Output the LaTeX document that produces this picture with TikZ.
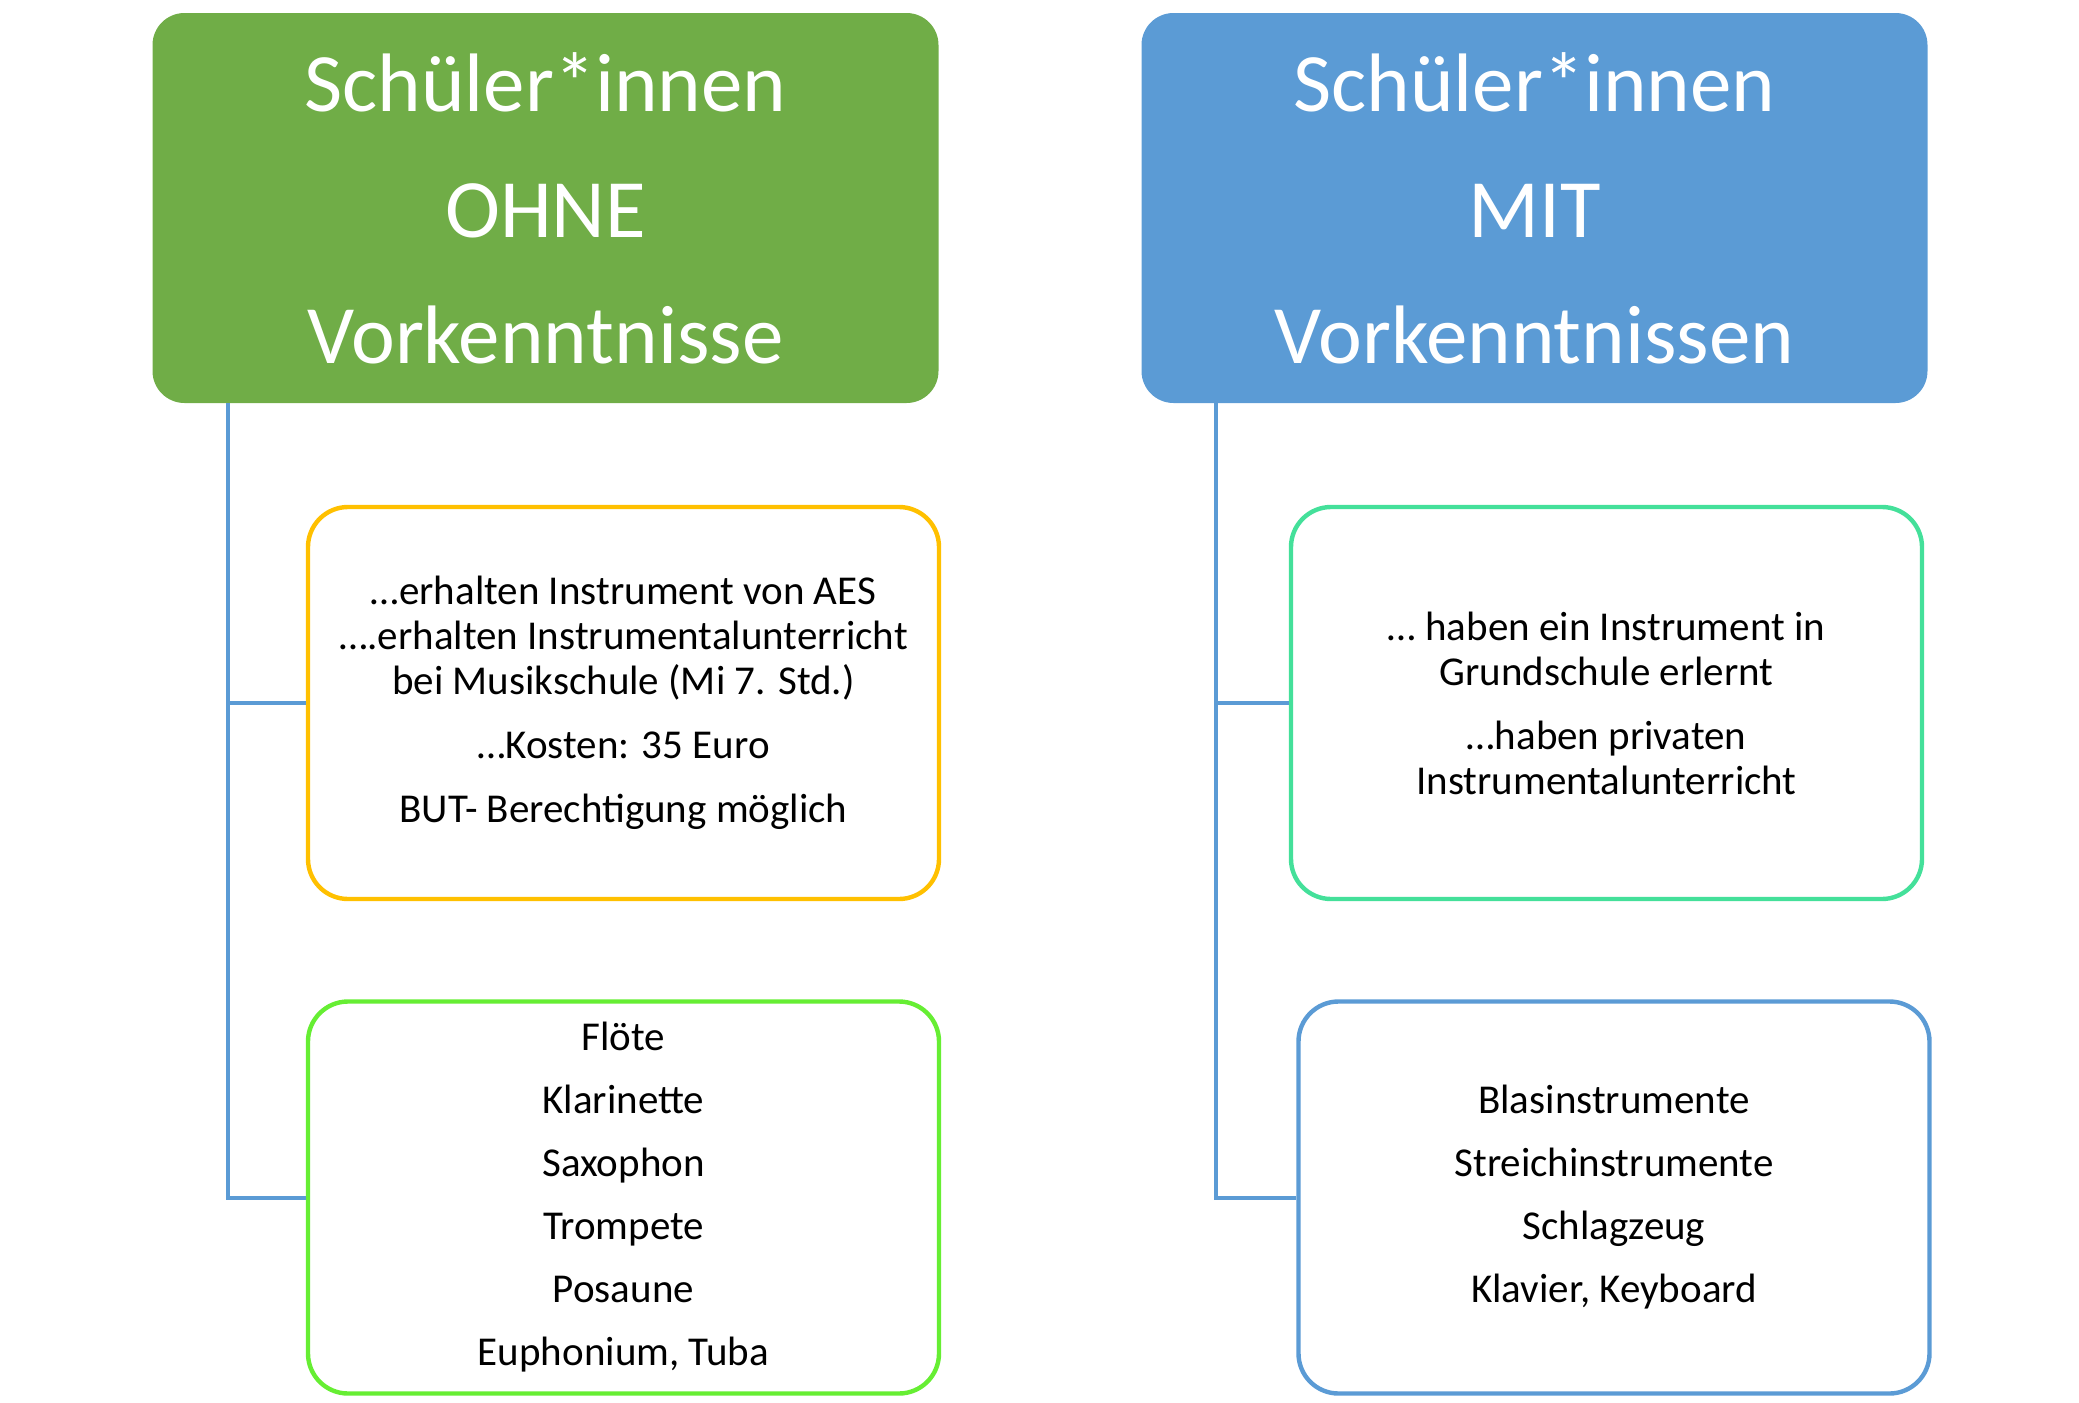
\documentclass[tikz,border=0pt]{standalone}
\usepackage{fontspec}
\setmainfont{Carlito}
\usetikzlibrary{positioning}
\definecolor{hdrgreen}{HTML}{70AD47}
\definecolor{hdrblue}{HTML}{5B9BD5}
\definecolor{boxorange}{HTML}{FFC000}
\definecolor{boxlime}{HTML}{66EE33}
\definecolor{boxteal}{HTML}{44E09A}

\begin{document}
\begin{tikzpicture}[x=0.5pt, y=-0.5pt,
  header/.style={rectangle, rounded corners=16pt, align=center, text=white,
    minimum width=393pt, minimum height=195pt, inner sep=0pt,
    font=\fontsize{41.5}{63}\selectfont},
  infobox/.style={rectangle, draw, line width=2.2pt, rounded corners=20pt,
    fill=white, align=center, minimum width=315.5pt, minimum height=196pt,
    inner sep=0pt, font=\fontsize{20.5}{22.5}\selectfont},
  branch/.style={draw=hdrblue, line width=2pt}]
  \useasboundingbox (0,0) rectangle (2079,1403);

  % the two groups
  \node[header, fill=hdrgreen] (ohne) at (545.5,208)
    {Schüler*innen\\OHNE\\Vorkenntnisse};
  \node[header, fill=hdrblue] (mit) at (1534.5,208)
    {Schüler*innen\\MIT\\Vorkenntnissen};

  % left column
  \node[infobox, draw=boxorange] (aes) at (623.5,703)
    {…erhalten Instrument von AES\\
     ….erhalten Instrumentalunterricht\\
     bei Musikschule (Mi 7. Std.)\\[9.5pt]
     …Kosten: 35 Euro\\[9.5pt]
     BUT- Berechtigung möglich};
  \node[infobox, draw=boxlime] (blaeser) at (623.5,1197.5)
    {Flöte\\[9pt] Klarinette\\[9pt] Saxophon\\[9pt] Trompete\\[9pt]
     Posaune\\[9pt] Euphonium, Tuba};

  % right column
  \node[infobox, draw=boxteal] (vorher) at (1606.5,703)
    {… haben ein Instrument in\\
     Grundschule erlernt\\[9.5pt]
     …haben privaten\\
     Instrumentalunterricht};
  \node[infobox, draw=hdrblue] (alle) at (1614,1197.5)
    {Blasinstrumente\\[9pt] Streichinstrumente\\[9pt] Schlagzeug\\[9pt]
     Klavier, Keyboard};

  % connectors
  \coordinate (trunkL) at ([xshift=38pt]ohne.south west);
  \coordinate (trunkR) at ([xshift=37.5pt]mit.south west);
  \draw[branch] (trunkL) |- (aes.west);
  \draw[branch] (trunkL) |- (blaeser.west);
  \draw[branch] (trunkR) |- (vorher.west);
  \draw[branch] (trunkR) |- (alle.west);

\end{tikzpicture}
\end{document}
